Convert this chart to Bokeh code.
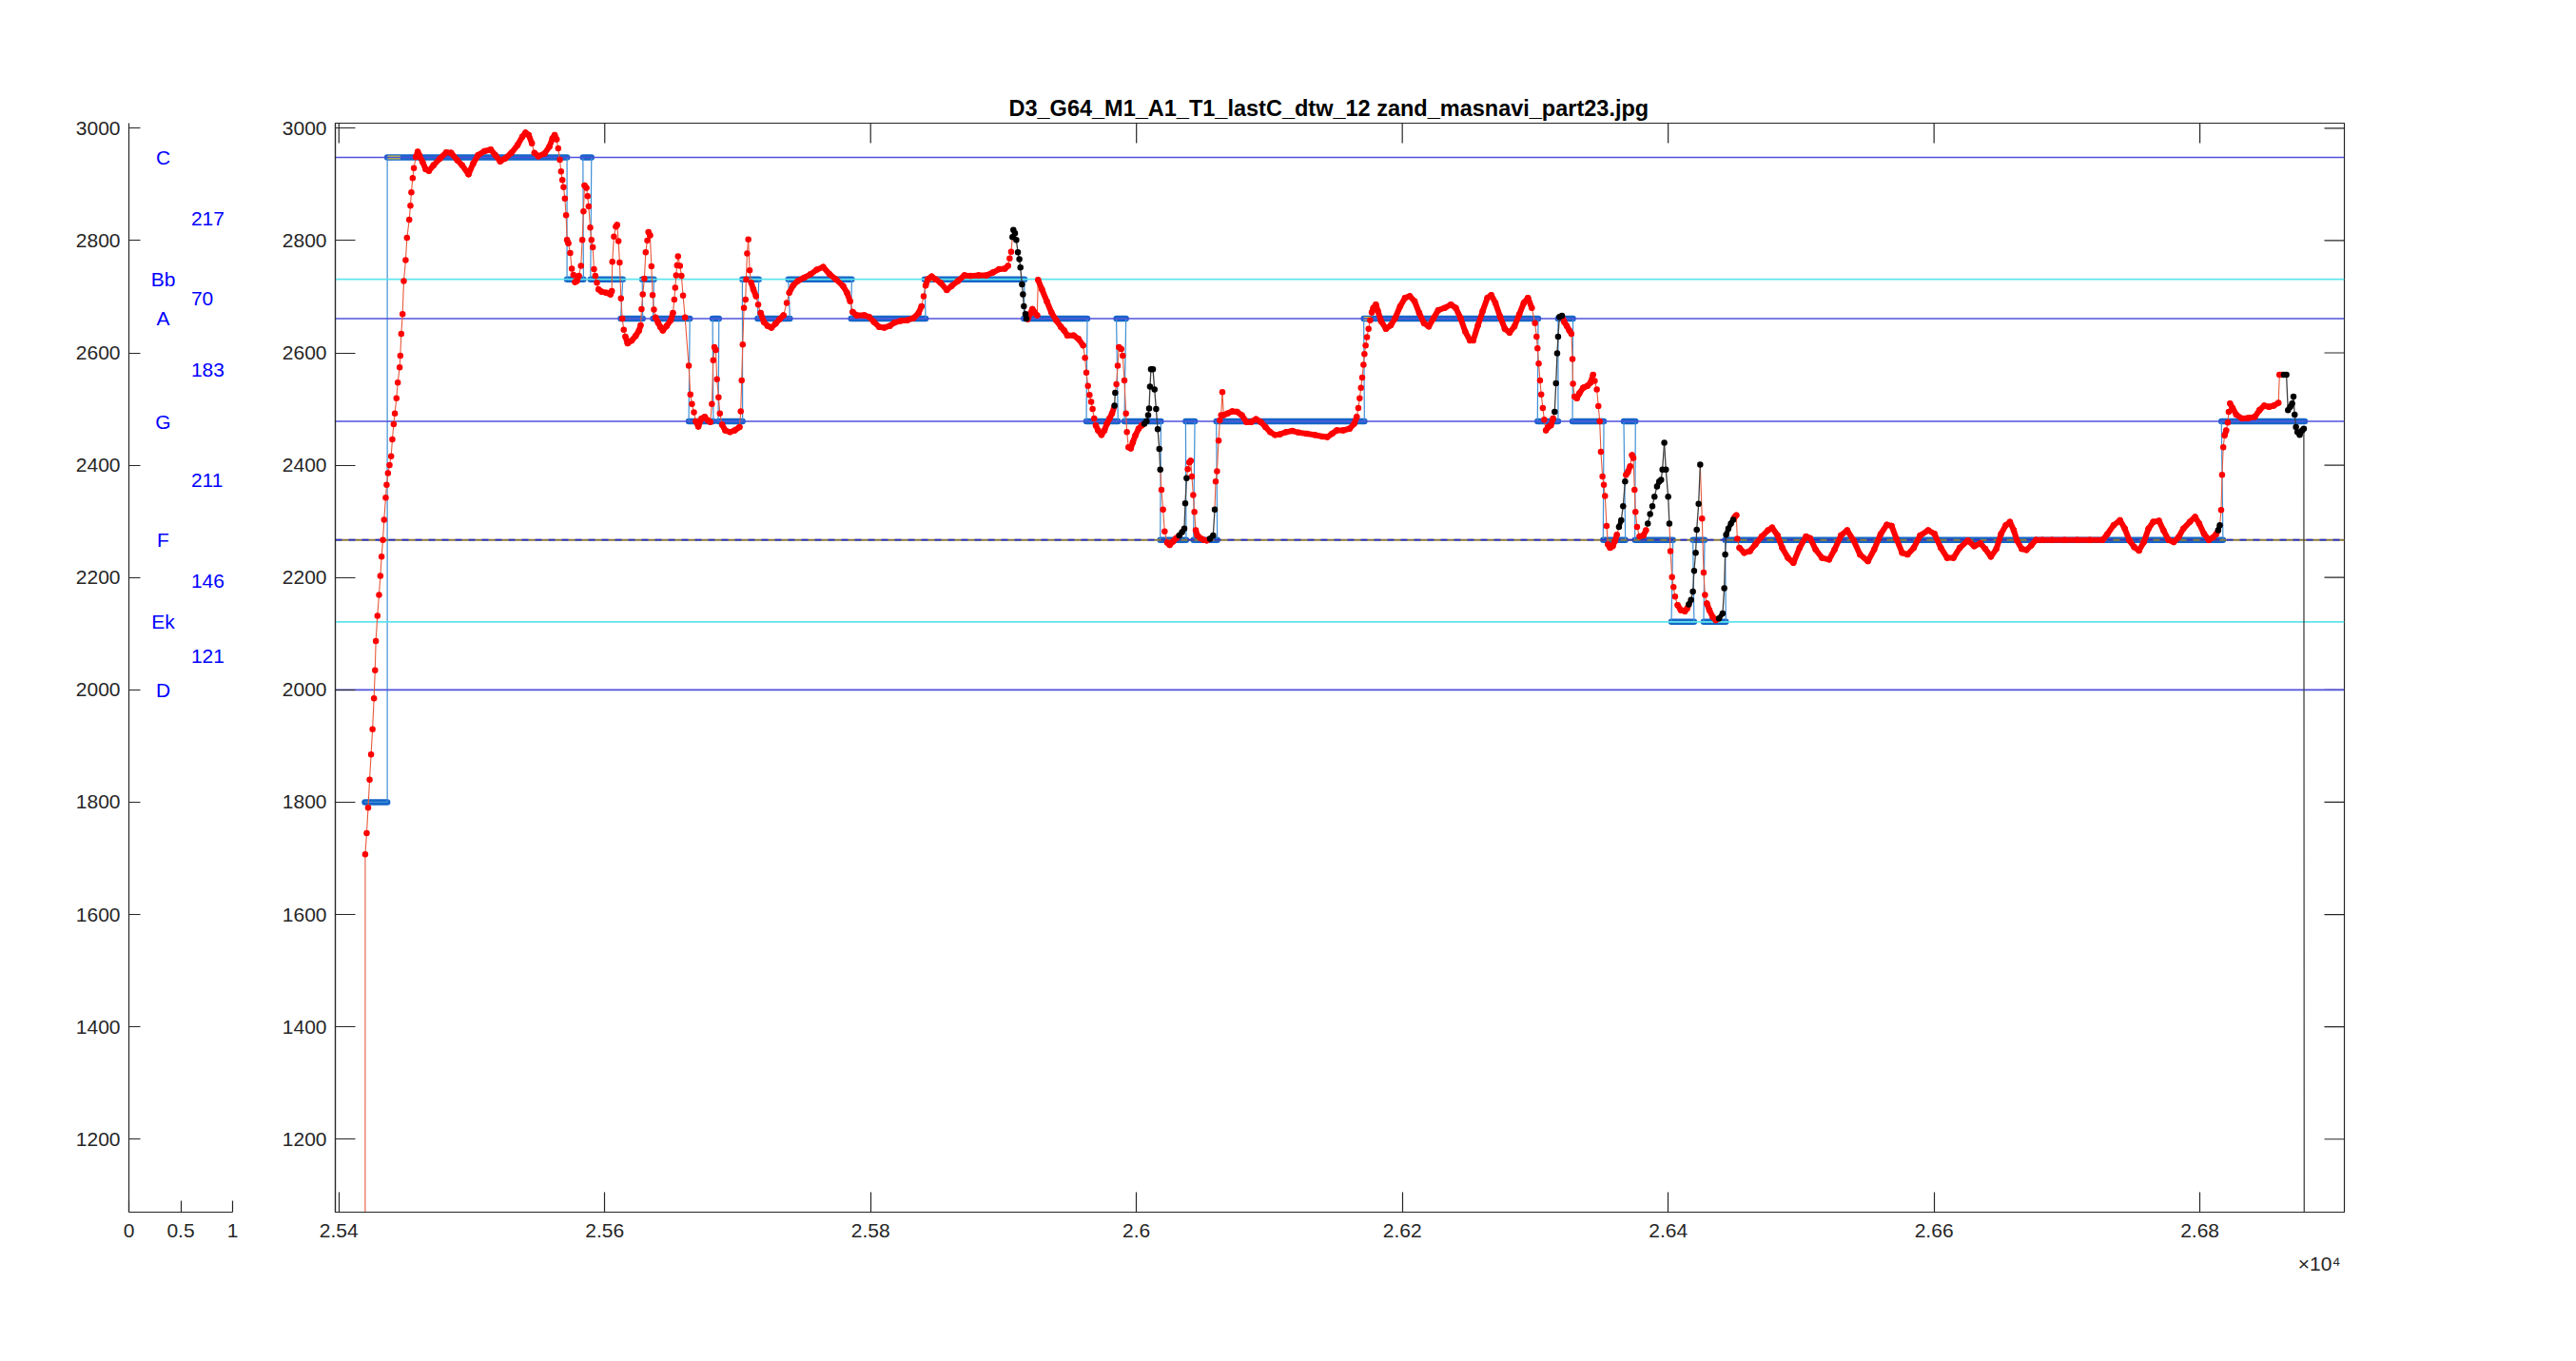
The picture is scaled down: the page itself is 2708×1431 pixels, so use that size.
import numpy as np
from bokeh.plotting import figure
from bokeh.models import FixedTicker, ColumnDataSource, Range1d, Title
from bokeh.layouts import row
from bokeh.embed import file_html
from bokeh.resources import INLINE
from bokeh.core.properties import value

# ---------------- data ----------------
TITLE = "D3_G64_M1_A1_T1_lastC_dtw_12 zand_masnavi_part23.jpg"
EXPONENT = "×10⁴"

SCALE_NAMES = ["D", "Ek", "F", "G", "A", "Bb", "C"]
SCALE_VALUES = [2000, 2121, 2267, 2478, 2661, 2731, 2948]
SCALE_KIND = ["main", "minor", "dashed", "main", "main", "minor", "main"]
INTERVALS = [121, 146, 211, 183, 70, 217]

Y_TICKS = [1200, 1400, 1600, 1800, 2000, 2200, 2400, 2600, 2800, 3000]
X_TICKS = [25400, 25600, 25800, 26000, 26200, 26400, 26600, 26800]
X_TICK_LABELS = ["2.54", "2.56", "2.58", "2.6", "2.62", "2.64", "2.66", "2.68"]
LEFT_X_TICKS = [0, 0.5, 1]

# quantised notes (start, end, pitch)
NOTE_START = [25419.5, 25436.4, 25571.6, 25583.6, 25589.3, 25612.0, 25628.2, 25636.3, 25663.2,
              25681.1, 25685.4, 25703.5, 25715.0, 25738.1, 25785.3, 25840.6, 25915.3, 25962.3,
              25984.9, 25990.9, 26017.9, 26037.0, 26042.9, 26060.1, 26171.0, 26301.7, 26317.2,
              26328.0, 26351.1, 26366.6, 26375.0, 26402.4, 26418.6, 26426.7, 26442.9, 26816.2]
NOTE_END = [25436.4, 25571.6, 25584.0, 25590.0, 25613.6, 25628.6, 25637.0, 25664.0, 25681.7,
            25685.9, 25703.7, 25715.9, 25739.3, 25785.8, 25841.4, 25915.8, 25963.0, 25986.1,
            25992.1, 26018.4, 26037.4, 26043.9, 26060.8, 26171.5, 26302.2, 26317.2, 26328.4,
            26351.6, 26367.8, 26375.4, 26403.6, 26419.5, 26427.4, 26443.4, 26817.4, 26878.9]
NOTE_PITCH = [1800, 2948, 2731, 2948, 2731, 2661, 2731, 2661, 2478,
              2661, 2478, 2731, 2661, 2731, 2661, 2731, 2661, 2478,
              2661, 2478, 2267, 2478, 2267, 2478, 2661, 2478, 2661,
              2478, 2267, 2478, 2267, 2121, 2267, 2121, 2267, 2478]

ONSET_START = [25436.6, 25840.6, 26171.0]
ONSET_END = [25446.2, 25851.5, 26176.0]
ONSET_PITCH = [2948, 2731, 2661]

# pitch contour
CONTOUR_X = [
    25419.7, 25419.8, 25420.9, 25422.0, 25423.1, 25424.2, 25425.3, 25426.4, 25427.2, 25427.8,
    25429.0, 25430.2, 25431.2, 25432.1, 25433.1, 25434.0, 25435.2, 25435.9, 25436.9, 25438.1,
    25439.3, 25440.2, 25441.2, 25442.1, 25443.3, 25444.3, 25445.7, 25446.2, 25446.9, 25447.9,
    25448.8, 25450.2, 25451.2, 25452.9, 25453.8, 25454.5, 25455.5, 25456.4, 25457.9, 25459.3,
    25460.5, 25462.9, 25465.3, 25467.7, 25471.2, 25476.0, 25480.8, 25484.4, 25489.1, 25492.7,
    25497.5, 25501.0, 25504.6, 25509.4, 25514.2, 25517.7, 25521.3, 25524.9, 25529.7, 25534.4,
    25538.0, 25540.4, 25542.8, 25545.2, 25547.1, 25550.0, 25554.7, 25558.3, 25560.7, 25562.3,
    25563.8, 25565.0, 25566.2, 25567.1, 25568.1, 25569.0, 25570.0, 25570.9, 25571.6, 25572.6,
    25574.0, 25575.2, 25576.4, 25577.6, 25579.0, 25580.5, 25582.1, 25583.1, 25584.0, 25584.8,
    25586.2, 25587.1, 25587.9, 25589.1, 25590.0, 25591.0, 25591.9, 25592.9, 25594.1, 25595.3,
    25597.6, 25601.2, 25604.3, 25605.3, 25605.7, 25606.9, 25608.4, 25609.3, 25610.3, 25611.2,
    25612.2, 25613.2, 25614.3, 25615.5, 25617.2, 25620.3, 25623.2, 25625.8, 25627.0, 25627.7,
    25628.6, 25629.8, 25630.8, 25632.0, 25632.9, 25634.1, 25635.1, 25636.0, 25637.0, 25638.2,
    25640.1, 25641.8, 25643.7, 25646.6, 25649.6, 25651.3, 25652.3, 25653.0, 25653.7, 25654.4,
    25655.1, 25656.6, 25657.7, 25658.9, 25660.4, 25663.2, 25664.4, 25665.6, 25667.1, 25668.5,
    25670.4, 25672.8, 25675.2, 25677.5, 25679.4, 25680.6, 25681.6, 25682.5, 25683.5, 25684.4,
    25685.6, 25686.6, 25688.3, 25690.6, 25694.2, 25697.8, 25701.4, 25702.3, 25703.0, 25703.8,
    25704.7, 25705.9, 25706.4, 25707.1, 25708.0, 25709.0, 25710.2, 25711.8, 25713.8, 25715.4,
    25717.3, 25719.7, 25722.6, 25725.4, 25728.5, 25731.6, 25734.5, 25736.9, 25738.8, 25741.7,
    25745.2, 25750.0, 25754.8, 25759.5, 25764.3, 25769.1, 25773.9, 25779.3, 25782.2, 25784.6,
    25786.5, 25789.4, 25795.3, 25798.9, 25802.5, 25806.5, 25810.3, 25814.4, 25818.0, 25822.8,
    25827.5, 25832.3, 25836.1, 25838.3, 25839.9, 25841.4, 25843.0, 25845.9, 25849.0, 25852.6,
    25857.3, 25860.9, 25865.7, 25870.5, 25875.2, 25881.2, 25887.1, 25891.9, 25896.7, 25901.0,
    25903.4, 25904.6, 25905.7, 25906.7, 25907.4, 25908.6, 25909.6, 25910.8, 25911.9, 25912.7,
    25913.9, 25914.6, 25915.3, 25916.5, 25917.2, 25918.2, 25919.8, 25921.7, 25923.4, 25925.3,
    25926.0, 25928.9, 25932.5, 25936.0, 25939.6, 25943.2, 25945.6, 25948.0, 25952.8, 25956.3,
    25959.9, 25961.3, 25962.3, 25963.5, 25964.7, 25965.9, 25967.0, 25968.2, 25969.4, 25971.1,
    25973.7, 25975.9, 25977.8, 25979.7, 25981.6, 25983.5, 25984.0, 25984.9, 25985.9, 25986.8,
    25988.5, 25989.7, 25990.9, 25992.1, 25992.8, 25994.0, 25995.7, 25997.3, 25999.2, 26001.6,
    26004.0, 26005.9, 26007.6, 26008.8, 26009.5, 26010.2, 26010.9, 26012.4, 26013.6, 26014.8,
    26016.0, 26017.2, 26017.9, 26018.8, 26020.0, 26021.2, 26023.1, 26025.0, 26027.4, 26029.8,
    26032.2, 26034.3, 26036.0, 26036.7, 26037.7, 26038.6, 26039.8, 26040.8, 26041.7, 26042.7,
    26043.6, 26044.6, 26045.8, 26048.2, 26050.6, 26052.9, 26055.3, 26057.7, 26058.9, 26059.6,
    26060.6, 26061.8, 26062.7, 26063.7, 26064.6, 26065.6, 26068.4, 26072.0, 26075.6, 26079.2,
    26082.8, 26086.3, 26089.9, 26093.5, 26097.1, 26100.6, 26104.2, 26107.8, 26112.6, 26117.3,
    26122.1, 26128.1, 26134.0, 26140.0, 26143.6, 26147.1, 26150.7, 26155.5, 26160.3, 26163.8,
    26165.7, 26166.9, 26167.9, 26168.9, 26169.8, 26170.8, 26171.5, 26172.4, 26173.4, 26174.6,
    26175.8, 26177.0, 26178.2, 26180.1, 26181.7, 26184.1, 26187.7, 26191.3, 26194.4, 26198.4,
    26202.0, 26205.6, 26209.2, 26212.7, 26216.3, 26219.9, 26223.5, 26227.0, 26231.8, 26236.6,
    26240.2, 26243.8, 26247.3, 26250.9, 26253.3, 26256.9, 26260.4, 26264.0, 26266.9, 26270.0,
    26273.5, 26277.1, 26280.7, 26284.3, 26287.9, 26291.4, 26294.5, 26297.4, 26299.8, 26301.0,
    26301.7, 26302.6, 26303.6, 26304.5, 26305.7, 26306.8, 26308.0, 26309.7, 26311.7, 26313.4,
    26314.6, 26315.6, 26316.5, 26317.2, 26318.2, 26320.1, 26321.8, 26323.7, 26325.6, 26327.2,
    26328.0, 26328.4, 26329.6, 26331.3, 26333.2, 26336.1, 26339.2, 26341.6, 26343.5, 26344.7,
    26346.3, 26347.5, 26348.5, 26349.4, 26350.6, 26351.6, 26352.5, 26353.7, 26354.7, 26356.3,
    26358.3, 26359.9, 26361.4, 26363.0, 26364.7, 26366.1, 26367.6, 26368.3, 26369.7, 26371.4,
    26372.8, 26373.8, 26374.7, 26375.4, 26376.6, 26378.5, 26381.4, 26383.3, 26384.7, 26386.4,
    26388.1, 26389.7, 26391.6, 26393.3, 26394.7, 26395.7, 26397.1, 26398.3, 26400.0, 26400.9,
    26401.7, 26402.9, 26404.0, 26405.2, 26407.1, 26409.5, 26412.6, 26414.3, 26415.5, 26417.2,
    26418.6, 26419.5, 26420.7, 26421.5, 26422.9, 26424.1, 26425.5, 26426.7, 26427.7, 26429.1,
    26431.0, 26433.4, 26435.8, 26438.2, 26441.0, 26442.2, 26442.9, 26443.6, 26445.3, 26447.2,
    26448.9, 26450.1, 26451.3, 26452.0, 26453.6, 26457.2, 26461.5, 26465.6, 26470.4, 26475.1,
    26478.2, 26482.3, 26485.8, 26490.1, 26494.2, 26498.9, 26503.7, 26506.8, 26510.9, 26515.7,
    26521.1, 26525.2, 26530.0, 26534.7, 26539.5, 26544.3, 26550.3, 26555.0, 26559.8, 26564.5,
    26568.1, 26571.7, 26576.0, 26580.1, 26584.8, 26589.6, 26595.6, 26600.3, 26605.1, 26609.9,
    26614.6, 26619.4, 26625.4, 26630.2, 26634.9, 26638.5, 26642.8, 26646.9, 26650.5, 26654.0,
    26657.1, 26660.0, 26662.4, 26666.0, 26669.5, 26673.1, 26676.7, 26681.5, 26688.6, 26698.2,
    26707.7, 26717.2, 26726.8, 26730.3, 26735.1, 26739.9, 26743.5, 26747.0, 26750.6, 26754.2,
    26757.8, 26761.4, 26764.9, 26769.2, 26772.6, 26776.4, 26780.4, 26784.0, 26787.6, 26792.4,
    26796.4, 26799.5, 26803.1, 26806.7, 26810.2, 26812.2, 26813.8, 26815.0, 26816.0, 26816.7,
    26817.6, 26818.6, 26819.8, 26821.0, 26821.7, 26822.7, 26824.6, 26827.4, 26831.7, 26836.5,
    26841.3, 26844.8, 26848.4, 26852.0, 26855.6, 26859.1, 26859.9, 26861.5, 26863.2, 26865.1,
    26866.3, 26868.0, 26869.4, 26870.4, 26871.3, 26872.3, 26873.4, 26875.1, 26877.0, 26878.2,
    26878.7]
CONTOUR_Y = [
    0, 1707, 1745, 1790, 1840, 1885, 1930, 1985, 2035, 2087,
    2132, 2169, 2203, 2237, 2267, 2303, 2342, 2365, 2386, 2400,
    2416, 2446, 2473, 2492, 2519, 2547, 2574, 2595, 2634, 2669,
    2728, 2765, 2805, 2837, 2862, 2886, 2911, 2929, 2949, 2958,
    2952, 2940, 2927, 2924, 2934, 2946, 2957, 2956, 2943, 2934,
    2918, 2937, 2952, 2959, 2962, 2952, 2941, 2946, 2956, 2970,
    2985, 2992, 2988, 2973, 2956, 2950, 2955, 2967, 2982, 2988,
    2980, 2964, 2944, 2923, 2908, 2895, 2875, 2845, 2801, 2795,
    2778, 2750, 2739, 2726, 2728, 2737, 2755, 2801, 2852, 2898,
    2894, 2879, 2861, 2823, 2801, 2788, 2749, 2737, 2725, 2713,
    2709, 2707, 2704, 2710, 2762, 2807, 2825, 2828, 2799, 2761,
    2697, 2661, 2641, 2629, 2617, 2622, 2630, 2640, 2649, 2678,
    2704, 2732, 2779, 2800, 2815, 2809, 2754, 2703, 2677, 2663,
    2654, 2646, 2640, 2648, 2658, 2671, 2695, 2716, 2738, 2756,
    2772, 2755, 2737, 2702, 2663, 2577, 2526, 2509, 2494, 2478,
    2469, 2483, 2486, 2480, 2477, 2509, 2587, 2610, 2605, 2553,
    2521, 2492, 2472, 2462, 2459, 2462, 2468, 2496, 2551, 2615,
    2680, 2695, 2731, 2777, 2802, 2747, 2725, 2713, 2701, 2686,
    2671, 2655, 2648, 2645, 2652, 2660, 2667, 2689, 2707, 2720,
    2728, 2734, 2740, 2748, 2753, 2740, 2731, 2719, 2707, 2692,
    2673, 2667, 2667, 2664, 2655, 2646, 2645, 2648, 2654, 2657,
    2658, 2662, 2671, 2683, 2701, 2720, 2731, 2736, 2731, 2725,
    2712, 2719, 2728, 2738, 2737, 2738, 2738, 2743, 2749, 2750,
    2755, 2768, 2780, 2806, 2819, 2813, 2801, 2779, 2767, 2752,
    2722, 2704, 2683, 2669, 2661, 2660, 2669, 2678, 2672, 2667,
    2730, 2713, 2692, 2672, 2658, 2646, 2640, 2631, 2631, 2625,
    2613, 2591, 2565, 2541, 2525, 2513, 2500, 2483, 2471, 2462,
    2454, 2462, 2474, 2483, 2492, 2506, 2529, 2544, 2577, 2610,
    2607, 2595, 2551, 2492, 2459, 2432, 2430, 2441, 2453, 2465,
    2471, 2474, 2478, 2489, 2501, 2540, 2571, 2571, 2535, 2500,
    2464, 2429, 2392, 2356, 2321, 2282, 2262, 2258, 2264, 2270,
    2275, 2281, 2287, 2332, 2377, 2393, 2405, 2408, 2380, 2347,
    2317, 2284, 2275, 2270, 2267, 2266, 2269, 2275, 2321, 2371,
    2389, 2444, 2480, 2489, 2530, 2489, 2492, 2496, 2495, 2489,
    2477, 2477, 2482, 2477, 2468, 2459, 2454, 2455, 2459, 2461,
    2458, 2456, 2454, 2451, 2450, 2456, 2462, 2462, 2465, 2474,
    2486, 2502, 2519, 2538, 2556, 2579, 2598, 2613, 2628, 2643,
    2658, 2672, 2680, 2686, 2674, 2656, 2643, 2649, 2661, 2683,
    2698, 2701, 2692, 2671, 2653, 2647, 2662, 2676, 2680, 2686,
    2680, 2662, 2638, 2622, 2622, 2649, 2674, 2698, 2703, 2689,
    2665, 2643, 2636, 2647, 2668, 2689, 2698, 2680, 2653, 2629,
    2608, 2581, 2551, 2526, 2502, 2481, 2462, 2468, 2471, 2483,
    2495, 2546, 2599, 2629, 2664, 2666, 2655, 2648, 2640, 2634,
    2589, 2545, 2522, 2519, 2528, 2538, 2541, 2547, 2561, 2550,
    2535, 2505, 2478, 2424, 2380, 2365, 2345, 2292, 2259, 2253,
    2256, 2265, 2276, 2290, 2302, 2327, 2371, 2383, 2388, 2398,
    2418, 2413, 2356, 2317, 2290, 2273, 2275, 2284, 2296, 2313,
    2327, 2344, 2362, 2371, 2374, 2392, 2440, 2392, 2344, 2296,
    2247, 2201, 2183, 2166, 2151, 2142, 2140, 2145, 2152, 2160,
    2175, 2212, 2244, 2285, 2331, 2401, 2305, 2209, 2169, 2154,
    2142, 2130, 2124, 2127, 2136, 2181, 2241, 2276, 2287, 2296,
    2303, 2308, 2311, 2269, 2253, 2244, 2247, 2259, 2273, 2284,
    2289, 2275, 2253, 2235, 2226, 2253, 2273, 2270, 2250, 2235,
    2232, 2250, 2275, 2284, 2266, 2241, 2229, 2250, 2277, 2294,
    2292, 2269, 2244, 2241, 2253, 2275, 2284, 2278, 2253, 2235,
    2235, 2253, 2266, 2256, 2261, 2251, 2237, 2251, 2278, 2293,
    2299, 2284, 2266, 2251, 2249, 2257, 2267, 2267, 2267, 2267,
    2267, 2267, 2267, 2277, 2293, 2302, 2287, 2266, 2254, 2248,
    2263, 2287, 2299, 2301, 2284, 2267, 2263, 2272, 2287, 2299,
    2308, 2296, 2278, 2267, 2272, 2277, 2284, 2293, 2320, 2383,
    2432, 2453, 2462, 2476, 2495, 2510, 2502, 2490, 2483, 2484,
    2486, 2498, 2506, 2504, 2506, 2511, 2561, 2561, 2561, 2561,
    2498, 2504, 2510, 2522, 2490, 2468, 2459, 2454, 2462, 2465,
    0]

# spans (x ranges) where the contour is marked in black
BLACK_SPANS = [(25906.5, 25917.3), (25983.3, 25984.2), (26005.7, 26018.0), (26032.0, 26037.8),
               (26055.0, 26059.0), (26314.4, 26320.3), (26362.8, 26367.8), (26384.5, 26401.0),
               (26415.3, 26424.2), (26438.0, 26449.0), (26813.6, 26815.2), (26863.0, 26879.0)]

# ---------------- layout constants ----------------
FONT = "Liberation Sans"
AXIS_COLOR = "#262626"
Y_RANGE = (1070, 3009)
X_RANGE = (25397.3, 26908.7)
FIG_H = 1415
TOP = 129
FRAME_H = 1145
BOTTOM = FIG_H - TOP - FRAME_H
L_LEFT, L_FRAME_W, L_RIGHT = 135, 109, 20
L_W = L_LEFT + L_FRAME_W + L_RIGHT
M_LEFT = 352 - L_W
MAIN_FRAME_W = 2112
M_RIGHT = 150
TICK_MAIN = 21
TICK_LEFT = 12
TITLE_OFFSET = 708


def style_axis(ax, tick_len, standoff):
    ax.major_tick_in = tick_len
    ax.major_tick_out = 0
    ax.minor_tick_line_color = None
    ax.axis_line_color = AXIS_COLOR
    ax.axis_line_width = 1.2
    ax.major_tick_line_color = AXIS_COLOR
    ax.major_tick_line_width = 1.2
    ax.major_label_text_font = FONT
    ax.major_label_text_color = AXIS_COLOR
    ax.major_label_standoff = standoff
    ax.major_label_text_font_size = "21px"


# ---------------- left panel ----------------
pL = figure(width=L_W, height=FIG_H, x_range=Range1d(0, 1), y_range=Range1d(*Y_RANGE),
            output_backend="svg", toolbar_location=None,
            min_border_left=L_LEFT, min_border_right=L_RIGHT, min_border_top=TOP,
            min_border_bottom=BOTTOM)
pL.grid.visible = False
pL.outline_line_color = None
pL.background_fill_color = "white"
pL.border_fill_color = "white"
pL.xaxis.ticker = FixedTicker(ticks=LEFT_X_TICKS)
pL.yaxis.ticker = FixedTicker(ticks=Y_TICKS)
style_axis(pL.xaxis[0], TICK_LEFT, 12)
style_axis(pL.yaxis[0], TICK_LEFT, 9)

note_src = ColumnDataSource(dict(x=[0.33] * len(SCALE_NAMES), y=SCALE_VALUES, t=SCALE_NAMES))
pL.text(x="x", y="y", text="t", source=note_src, text_font=value(FONT),
        text_font_size=value("21px"), text_color="#0000ff", text_align="center",
        text_baseline="middle")
mids = [(SCALE_VALUES[i] + SCALE_VALUES[i + 1]) / 2 for i in range(len(INTERVALS))]
int_src = ColumnDataSource(dict(x=[0.6] * len(INTERVALS), y=mids, t=[str(v) for v in INTERVALS]))
pL.text(x="x", y="y", text="t", source=int_src, text_font=value(FONT),
        text_font_size=value("21px"), text_color="#0000ff", text_align="left",
        text_baseline="middle")

# ---------------- main panel ----------------
pM = figure(width=M_LEFT + MAIN_FRAME_W + M_RIGHT, height=FIG_H, x_range=Range1d(*X_RANGE),
            y_range=Range1d(*Y_RANGE), output_backend="svg", toolbar_location=None,
            min_border_left=M_LEFT, min_border_right=M_RIGHT, min_border_top=TOP,
            min_border_bottom=BOTTOM)
pM.grid.visible = False
pM.outline_line_color = AXIS_COLOR
pM.outline_line_width = 1.2
pM.background_fill_color = "white"
pM.border_fill_color = "white"
pM.xaxis.ticker = FixedTicker(ticks=X_TICKS)
pM.xaxis.major_label_overrides = {t: l for t, l in zip(X_TICKS, X_TICK_LABELS)}
pM.yaxis.ticker = FixedTicker(ticks=Y_TICKS)
style_axis(pM.xaxis[0], TICK_MAIN, 12)
style_axis(pM.yaxis[0], TICK_MAIN, 9)

px_x = MAIN_FRAME_W / (X_RANGE[1] - X_RANGE[0])
px_y = FRAME_H / (Y_RANGE[1] - Y_RANGE[0])

# box ticks on the top and right edges
pM.segment(x0=X_TICKS, x1=X_TICKS, y0=[Y_RANGE[1]] * len(X_TICKS),
           y1=[Y_RANGE[1] - TICK_MAIN / px_y] * len(X_TICKS), line_color=AXIS_COLOR, line_width=1.2)
pM.segment(x0=[X_RANGE[1]] * len(Y_TICKS), x1=[X_RANGE[1] - TICK_MAIN / px_x] * len(Y_TICKS),
           y0=Y_TICKS, y1=Y_TICKS, line_color=AXIS_COLOR, line_width=1.2)

# title above, exponent below-right
pM.title = Title(text=TITLE, align="left", text_font=FONT, text_font_style="bold",
                 text_font_size="23.5px", text_color="#000000", standoff=6, offset=TITLE_OFFSET)
pM.add_layout(Title(text=EXPONENT, align="right", text_font=FONT, text_font_style="normal",
                    text_font_size="21px", text_color=AXIS_COLOR, standoff=22, offset=4), "below")

# notes: thick segments + thin step line
pM.segment(x0=NOTE_START, x1=NOTE_END, y0=NOTE_PITCH, y1=NOTE_PITCH,
           line_color="#1565c8", line_width=6.5, line_cap="round")
pM.segment(x0=ONSET_START, x1=ONSET_END, y0=ONSET_PITCH, y1=ONSET_PITCH,
           line_color="#c8c23c", line_width=4)
step_x, step_y = [], []
for s, e, v in zip(NOTE_START, NOTE_END, NOTE_PITCH):
    step_x += [s, e]
    step_y += [v, v]
pM.line(step_x, step_y, line_color="#3f8fd6", line_width=1.2)

# scale reference lines
for v, kind in zip(SCALE_VALUES, SCALE_KIND):
    if kind == "main":
        pM.segment(x0=[X_RANGE[0]], x1=[X_RANGE[1]], y0=[v], y1=[v], line_color="#5050dc", line_width=1.6)
    elif kind == "minor":
        pM.segment(x0=[X_RANGE[0]], x1=[X_RANGE[1]], y0=[v], y1=[v], line_color="#5ee4ec", line_width=1.6)
    else:
        pM.segment(x0=[X_RANGE[0]], x1=[X_RANGE[1]], y0=[v], y1=[v], line_color="#8c7a3c", line_width=2.0)
        pM.segment(x0=[X_RANGE[0]], x1=[X_RANGE[1]], y0=[v], y1=[v], line_color="#2630d0",
                   line_width=1.8, line_dash="7 7")

# contour
xs = np.array(CONTOUR_X, dtype=float)
ys = np.array(CONTOUR_Y, dtype=float)
dxp = np.abs(np.diff(xs)) * px_x
dyp = np.abs(np.diff(ys)) * px_y
slope = dyp / np.maximum(dxp, 1e-6)
dense = slope < 3.3

in_black = np.zeros(len(xs), dtype=bool)
for a, b in BLACK_SPANS:
    in_black |= (xs >= a) & (xs <= b)
both = in_black[:-1] & in_black[1:]
red = ~both

seg = dict(x0=xs[:-1][red], x1=xs[1:][red], y0=ys[:-1][red], y1=ys[1:][red],
           w=np.where(dense[red], 6.0, 1.1),
           c=np.where(dense[red], "#ff0000", "#e8583a"))
pM.segment(x0="x0", y0="y0", x1="x1", y1="y1", line_width="w", line_color="c",
           line_cap="round", source=ColumnDataSource(seg))
voiced = ys > 0
rm = voiced & ~in_black
pM.scatter(xs[rm], ys[rm], size=6.5, marker="circle", fill_color="#ff0000", line_color=None)

bseg = dict(x0=xs[:-1][both], x1=xs[1:][both], y0=ys[:-1][both], y1=ys[1:][both],
            w=np.where(dense[both], 5.0, 1.3),
            c=np.where(dense[both], "#000000", "#404040"))
pM.segment(x0="x0", y0="y0", x1="x1", y1="y1", line_width="w", line_color="c",
           line_cap="round", source=ColumnDataSource(bseg))
bm = in_black & voiced
pM.scatter(xs[bm], ys[bm], size=6.5, marker="circle", fill_color="#000000", line_color=None)

layout = row(pL, pM)
open("out.html", "w").write(file_html(layout, INLINE))
